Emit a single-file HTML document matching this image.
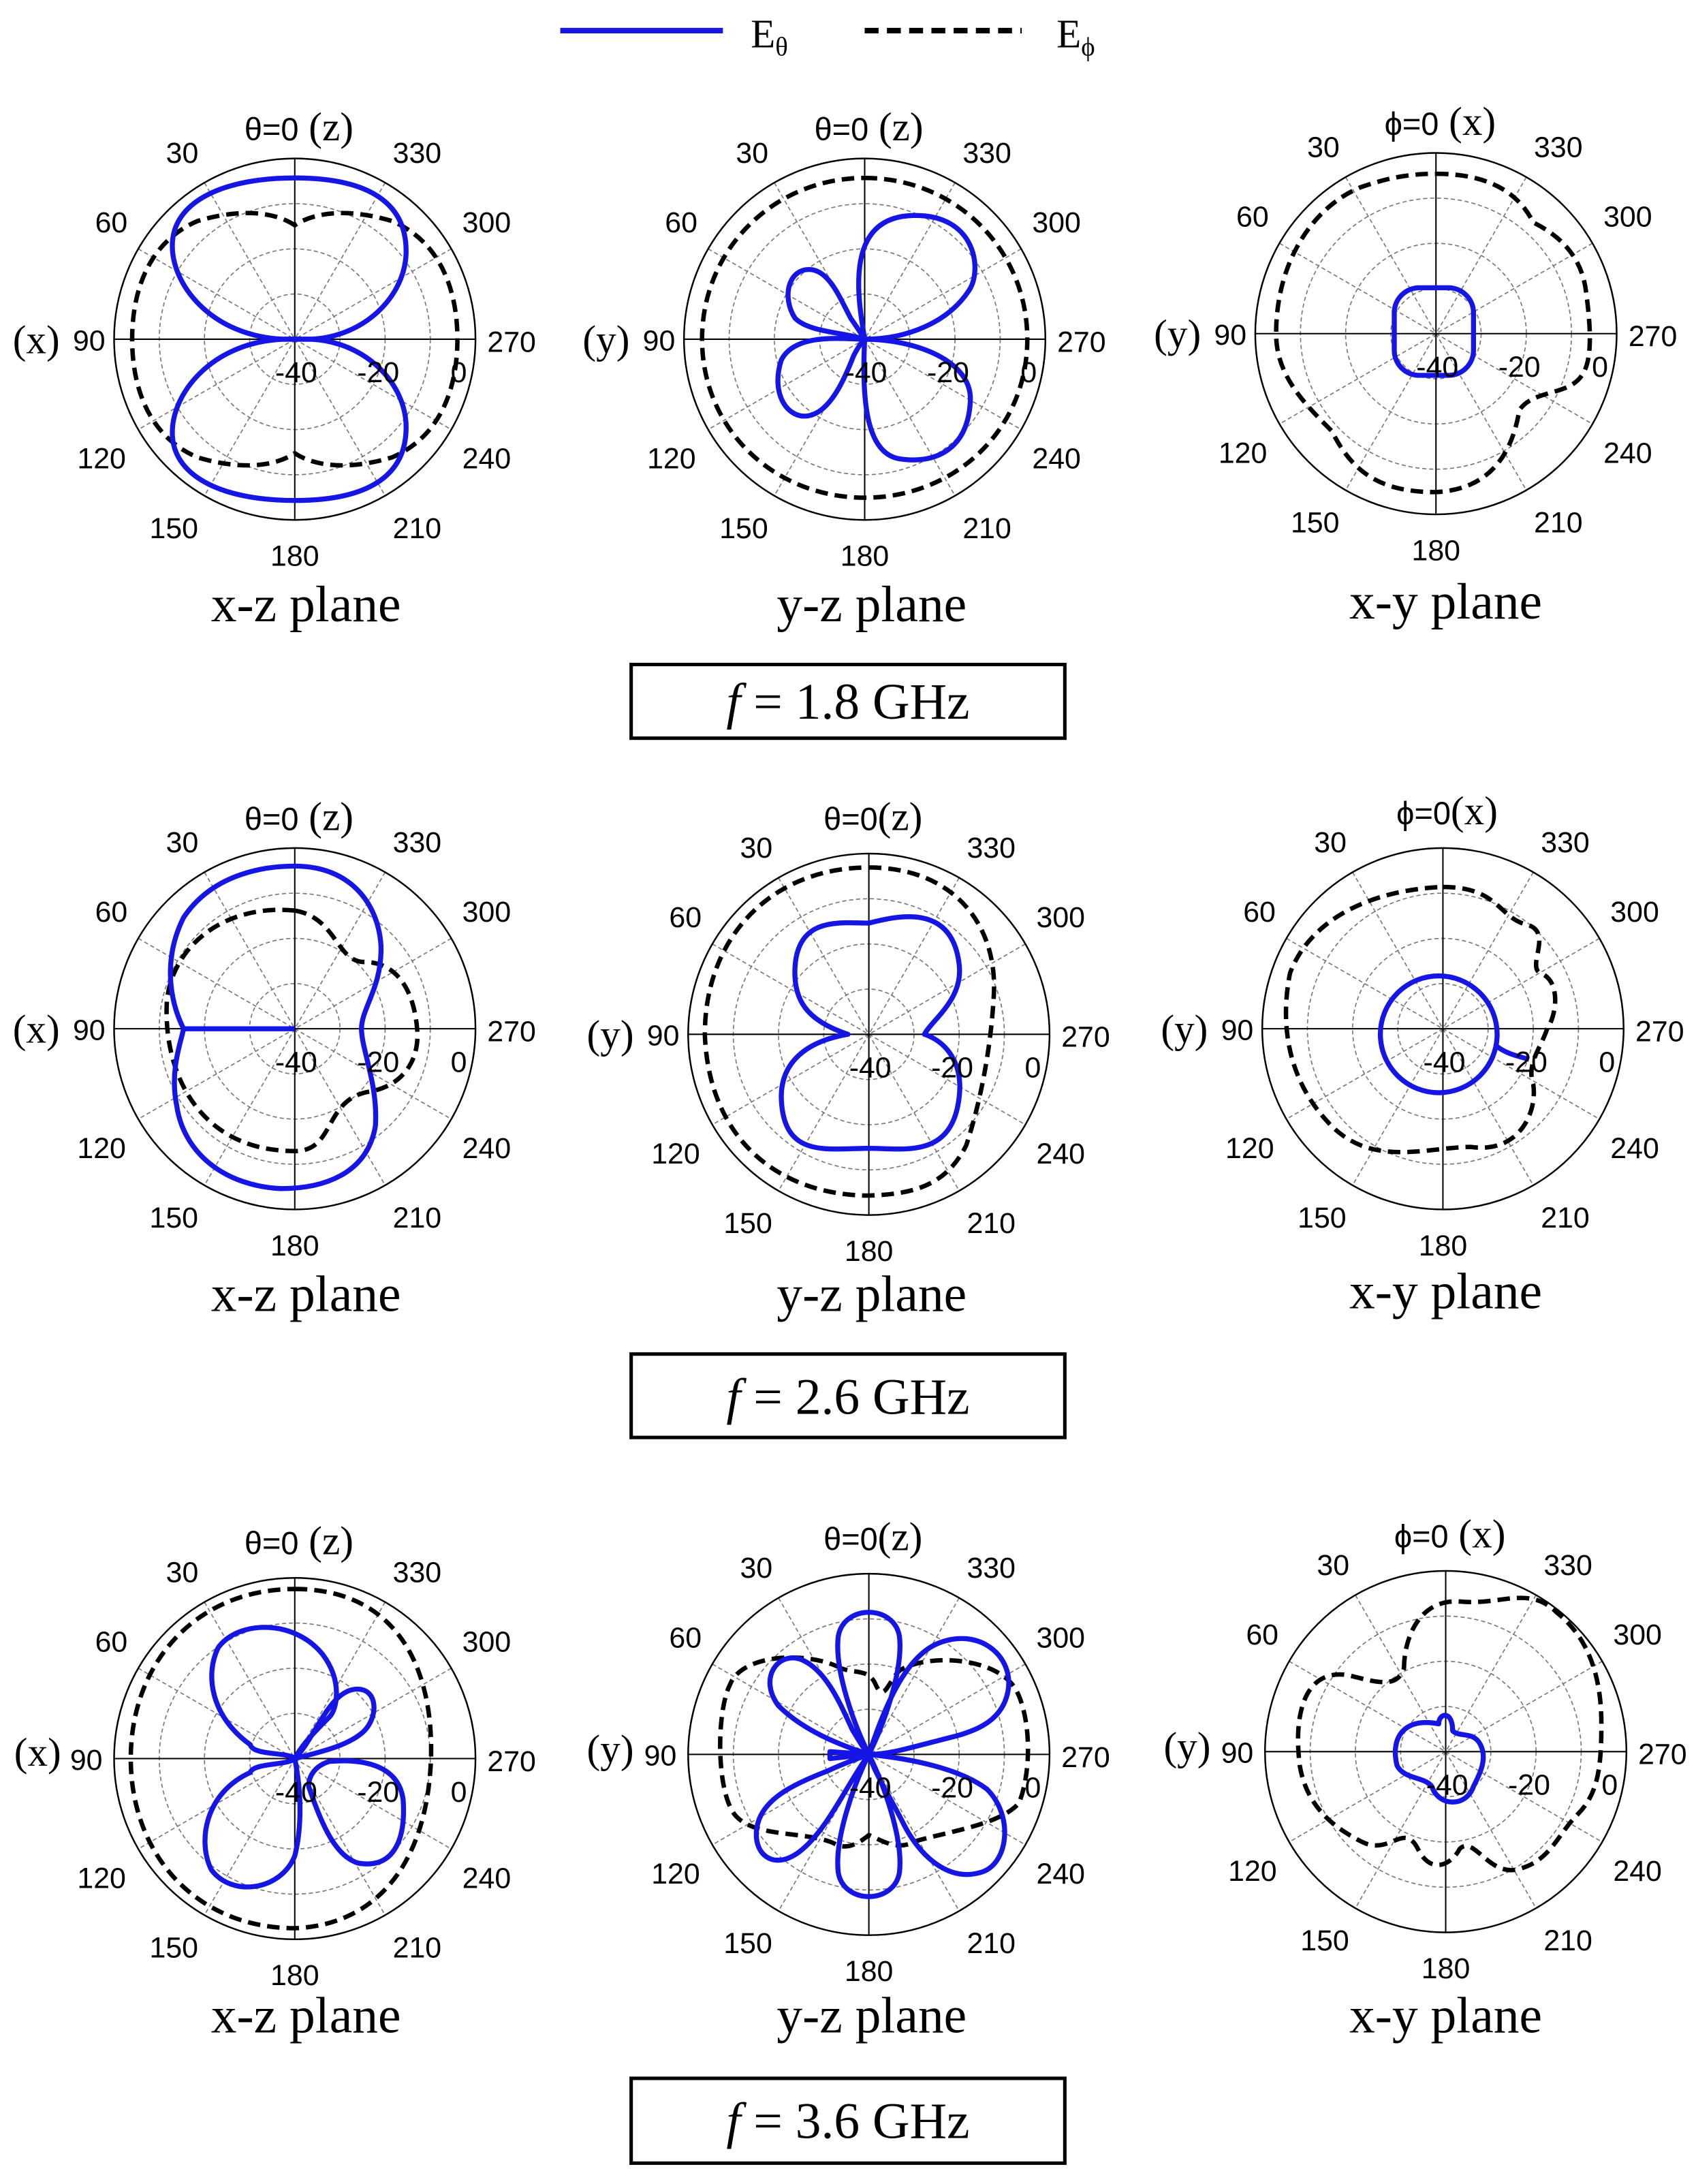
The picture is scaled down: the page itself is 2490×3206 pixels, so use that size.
<!DOCTYPE html>
<html><head><meta charset="utf-8"><style>
html,body{margin:0;padding:0;background:#fff;}
svg{display:block;}
.n{font-family:"Liberation Sans",sans-serif;font-size:21px;fill:#000;text-anchor:middle;}
.s{font-family:"Liberation Serif",serif;font-size:29px;fill:#000;text-anchor:middle;}
.p{font-family:"Liberation Serif",serif;font-size:37px;fill:#000;text-anchor:middle;}
.b{fill:none;stroke:#1515e6;stroke-width:3.6;stroke-linejoin:round;}
.d{fill:none;stroke:#000;stroke-width:3.2;stroke-dasharray:9,5;}
</style></head><body>
<svg width="2490" height="3206" viewBox="0 0 1220 1571" xmlns="http://www.w3.org/2000/svg">
<defs>
<g id="grid">
<circle r="32.5" fill="none" stroke="#777" stroke-width="0.8" stroke-dasharray="3,2"/>
<circle r="65" fill="none" stroke="#777" stroke-width="0.8" stroke-dasharray="3,2"/>
<circle r="97.5" fill="none" stroke="#777" stroke-width="0.8" stroke-dasharray="3,2"/>
<g stroke="#777" stroke-width="0.8" stroke-dasharray="3,2">
<line x1="-65" y1="-112.6" x2="65" y2="112.6"/><line x1="65" y1="-112.6" x2="-65" y2="112.6"/>
<line x1="-112.6" y1="-65" x2="112.6" y2="65"/><line x1="112.6" y1="-65" x2="-112.6" y2="65"/>
</g>
<line x1="-130" y1="0" x2="130" y2="0" stroke="#000" stroke-width="1"/>
<line x1="0" y1="-130" x2="0" y2="130" stroke="#000" stroke-width="1"/>
<circle r="130" fill="none" stroke="#000" stroke-width="1.2"/>
</g>
</defs>

<line x1="403" y1="22" x2="520" y2="22" stroke="#1515e6" stroke-width="4"/>
<text x="540" y="34" class="s" style="text-anchor:start">E<tspan font-size="19" dy="6">θ</tspan></text>
<line x1="622" y1="22" x2="735" y2="22" stroke="#000" stroke-width="4" stroke-dasharray="10,6"/>
<text x="760" y="34" class="s" style="text-anchor:start">E<tspan font-size="19" dy="6">ϕ</tspan></text>

<!-- ROW 1 -->
<g transform="translate(212,244)">
<use href="#grid"/>
<path class="d" d="M0,-82 C-15,-92 -40,-94 -70,-85 C-105,-70 -117,-35 -117,0 C-117,35 -105,70 -70,85 C-40,94 -15,92 0,82 C15,92 40,94 70,85 C105,70 117,35 117,0 C117,-35 105,-70 70,-85 C40,-94 15,-92 0,-82Z"/>
<path class="b" d="M-8,0 C-60,-2 -90,-40 -88,-70 C-86,-100 -50,-116 0,-116 C50,-116 82,-100 80,-60 C78,-30 50,-2 12,0 Z"/>
<path class="b" transform="scale(1,-1)" d="M-8,0 C-60,-2 -90,-40 -88,-70 C-86,-100 -50,-116 0,-116 C50,-116 82,-100 80,-60 C78,-30 50,-2 12,0 Z"/>
<text class="n" x="-81" y="-127">30</text><text class="n" x="88" y="-127">330</text>
<text class="n" x="-132" y="-77">60</text><text class="n" x="138" y="-77">300</text>
<text class="n" x="-148" y="8">90</text><text class="s" x="-186" y="10">(x)</text>
<text class="n" x="156" y="9">270</text>
<text class="n" x="-139" y="93">120</text><text class="n" x="138" y="93">240</text>
<text class="n" x="-87" y="143">150</text><text class="n" x="88" y="143">210</text>
<text class="n" x="0" y="163">180</text>
<text class="n" x="1" y="31">-40</text><text class="n" x="60" y="31">-20</text><text class="n" x="118" y="31">0</text>
<text class="s" x="3" y="-143"><tspan font-family="Liberation Sans" font-size="23">θ=0</tspan> (z)</text>
<text class="p" x="8" y="203">x-z plane</text>
</g>

<g transform="translate(622,244)">
<use href="#grid"/>
<path class="d" d="M0,-116 C65,-116 117,-65 117,0 C117,65 65,114 0,114 C-65,114 -117,65 -117,0 C-117,-65 -65,-116 0,-116Z"/>
<path class="b" d="M0,0 C-5,-30 -15,-88 35,-89 C80,-90 85,-50 75,-35 C60,-12 30,0 0,0Z"/>
<path class="b" d="M0,0 C-15,-5 -40,-5 -50,-15 C-60,-30 -55,-52 -38,-50 C-25,-48 -18,-30 -10,-15 C-5,-8 -2,-3 0,0Z"/>
<path class="b" d="M0,0 C-15,0 -50,-5 -60,15 C-68,40 -55,58 -40,55 C-25,52 -15,30 -8,12 C-5,6 -2,2 0,0Z"/>
<path class="b" d="M0,0 C35,0 78,15 76,45 C74,80 50,90 25,86 C0,82 -2,40 0,0Z"/>
<text class="n" x="-81" y="-127">30</text><text class="n" x="88" y="-127">330</text>
<text class="n" x="-132" y="-77">60</text><text class="n" x="138" y="-77">300</text>
<text class="n" x="-148" y="8">90</text><text class="s" x="-186" y="10">(y)</text>
<text class="n" x="156" y="9">270</text>
<text class="n" x="-139" y="93">120</text><text class="n" x="138" y="93">240</text>
<text class="n" x="-87" y="143">150</text><text class="n" x="88" y="143">210</text>
<text class="n" x="0" y="163">180</text>
<text class="n" x="1" y="31">-40</text><text class="n" x="60" y="31">-20</text><text class="n" x="118" y="31">0</text>
<text class="s" x="3" y="-143"><tspan font-family="Liberation Sans" font-size="23">θ=0</tspan> (z)</text>
<text class="p" x="5" y="203">y-z plane</text>
</g>

<g transform="translate(1033,240)">
<use href="#grid"/>
<path class="d" d="M0,-115 C40,-115 60,-100 70,-80 C90,-70 105,-55 108,-30 C112,0 112,20 105,30 C95,45 70,40 60,55 C55,85 40,112 0,114 C-40,114 -60,100 -75,70 C-95,50 -115,30 -115,0 C-115,-50 -90,-90 -55,-105 C-35,-112 -20,-115 0,-115Z"/>
<rect class="b" x="-30" y="-33" width="57" height="63" rx="18"/>
<text class="n" x="-81" y="-127">30</text><text class="n" x="88" y="-127">330</text>
<text class="n" x="-132" y="-77">60</text><text class="n" x="138" y="-77">300</text>
<text class="n" x="-148" y="8">90</text><text class="s" x="-186" y="10">(y)</text>
<text class="n" x="156" y="9">270</text>
<text class="n" x="-139" y="93">120</text><text class="n" x="138" y="93">240</text>
<text class="n" x="-87" y="143">150</text><text class="n" x="88" y="143">210</text>
<text class="n" x="0" y="163">180</text>
<text class="n" x="1" y="31">-40</text><text class="n" x="60" y="31">-20</text><text class="n" x="118" y="31">0</text>
<text class="s" x="3" y="-143"><tspan font-family="Liberation Sans" font-size="23">ϕ=0</tspan> (x)</text>
<text class="p" x="7" y="205">x-y plane</text>
</g>

<rect x="454" y="478" width="312" height="53" fill="none" stroke="#000" stroke-width="2.5"/>
<text class="p" x="610" y="517"><tspan font-style="italic">f</tspan> = 1.8 GHz</text>

<!-- ROW 2 -->
<g transform="translate(212,740)">
<use href="#grid"/>
<path class="d" d="M0,-85 C-50,-90 -88,-60 -92,-20 C-95,30 -70,88 0,88 C30,88 20,50 55,45 C80,40 90,20 88,0 C86,-25 75,-48 50,-48 C30,-48 30,-80 0,-85Z"/>
<path class="b" d="M0,0 L-80,0 C-90,-20 -95,-50 -80,-80 C-60,-110 -25,-117 0,-117 C40,-117 60,-90 62,-60 C63,-30 48,-15 48,0 C48,15 60,40 58,70 C52,105 20,115 -10,115 C-50,113 -80,90 -85,55 C-90,30 -82,10 -80,0"/>
<text class="n" x="-81" y="-127">30</text><text class="n" x="88" y="-127">330</text>
<text class="n" x="-132" y="-77">60</text><text class="n" x="138" y="-77">300</text>
<text class="n" x="-148" y="8">90</text><text class="s" x="-186" y="10">(x)</text>
<text class="n" x="156" y="9">270</text>
<text class="n" x="-139" y="93">120</text><text class="n" x="138" y="93">240</text>
<text class="n" x="-87" y="143">150</text><text class="n" x="88" y="143">210</text>
<text class="n" x="0" y="163">180</text>
<text class="n" x="1" y="31">-40</text><text class="n" x="60" y="31">-20</text><text class="n" x="118" y="31">0</text>
<text class="s" x="3" y="-143"><tspan font-family="Liberation Sans" font-size="23">θ=0</tspan> (z)</text>
<text class="p" x="8" y="203">x-z plane</text>
</g>

<g transform="translate(625,744)">
<use href="#grid"/>
<path class="d" d="M0,-120 C60,-120 92,-80 90,-30 C88,10 80,50 70,80 C55,110 30,115 0,116 C-60,116 -115,80 -118,0 C-118,-70 -70,-120 0,-120Z"/>
<path class="b" d="M0,-80 C20,-85 60,-95 65,-50 C68,-25 45,-10 40,0 C55,5 68,20 65,45 C60,90 25,82 0,82 C-30,82 -62,90 -63,45 C-63,20 -45,5 -15,0 C-45,-10 -55,-25 -53,-50 C-50,-85 -20,-80 0,-80Z"/>
<text class="n" x="-81" y="-127">30</text><text class="n" x="88" y="-127">330</text>
<text class="n" x="-132" y="-77">60</text><text class="n" x="138" y="-77">300</text>
<text class="n" x="-148" y="8">90</text><text class="s" x="-186" y="10">(y)</text>
<text class="n" x="156" y="9">270</text>
<text class="n" x="-139" y="93">120</text><text class="n" x="138" y="93">240</text>
<text class="n" x="-87" y="143">150</text><text class="n" x="88" y="143">210</text>
<text class="n" x="0" y="163">180</text>
<text class="n" x="1" y="31">-40</text><text class="n" x="60" y="31">-20</text><text class="n" x="118" y="31">0</text>
<text class="s" x="3" y="-147"><tspan font-family="Liberation Sans" font-size="23">θ=0</tspan>(z)</text>
<text class="p" x="2" y="199">y-z plane</text>
</g>

<g transform="translate(1038,740)">
<use href="#grid"/>
<path class="d" d="M0,-102 C40,-102 40,-80 60,-75 C80,-70 60,-45 70,-40 C85,-35 82,-10 75,0 C70,15 60,25 65,40 C68,60 55,90 20,85 C-10,85 -50,100 -80,70 C-110,40 -118,0 -110,-40 C-95,-80 -50,-100 0,-102Z"/>
<circle class="b" cx="-3" cy="4" r="42"/>
<path class="b" d="M38,12 C45,18 55,20 62,22"/>
<text class="n" x="-81" y="-127">30</text><text class="n" x="88" y="-127">330</text>
<text class="n" x="-132" y="-77">60</text><text class="n" x="138" y="-77">300</text>
<text class="n" x="-148" y="8">90</text><text class="s" x="-186" y="10">(y)</text>
<text class="n" x="156" y="9">270</text>
<text class="n" x="-139" y="93">120</text><text class="n" x="138" y="93">240</text>
<text class="n" x="-87" y="143">150</text><text class="n" x="88" y="143">210</text>
<text class="n" x="0" y="163">180</text>
<text class="n" x="1" y="31">-40</text><text class="n" x="60" y="31">-20</text><text class="n" x="118" y="31">0</text>
<text class="s" x="3" y="-147"><tspan font-family="Liberation Sans" font-size="23">ϕ=0</tspan>(x)</text>
<text class="p" x="2" y="201">x-y plane</text>
</g>

<rect x="454" y="974" width="312" height="60" fill="none" stroke="#000" stroke-width="2.5"/>
<text class="p" x="610" y="1017"><tspan font-style="italic">f</tspan> = 2.6 GHz</text>

<!-- ROW 3 -->
<g transform="translate(212,1265)">
<use href="#grid"/>
<path class="d" d="M0,-122 C70,-122 100,-70 98,0 C95,80 55,120 0,122 C-70,122 -118,70 -118,0 C-118,-70 -70,-122 0,-122Z"/>
<path class="b" d="M0,0 C-5,-5 -30,-2 -32,-10 C-60,-30 -65,-60 -55,-80 C-40,-100 0,-100 20,-75 C35,-55 30,-35 25,-30 C15,-20 5,-10 0,0Z"/>
<path class="b" d="M0,0 C15,-15 25,-50 45,-50 C60,-50 60,-30 50,-20 C40,-10 20,-5 0,0Z"/>
<path class="b" d="M0,0 C-5,5 -30,3 -32,10 C-65,25 -70,60 -60,80 C-45,100 -10,95 0,70 C5,50 5,25 0,0Z"/>
<path class="b" d="M10,20 C20,50 30,70 45,75 C70,80 80,60 78,30 C75,5 50,0 25,2 C15,5 10,12 10,20Z"/>
<text class="n" x="-81" y="-127">30</text><text class="n" x="88" y="-127">330</text>
<text class="n" x="-132" y="-77">60</text><text class="n" x="138" y="-77">300</text>
<text class="n" x="-150" y="8">90</text><text class="s" x="-185" y="5">(x)</text>
<text class="n" x="156" y="9">270</text>
<text class="n" x="-139" y="93">120</text><text class="n" x="138" y="93">240</text>
<text class="n" x="-87" y="143">150</text><text class="n" x="88" y="143">210</text>
<text class="n" x="0" y="163">180</text>
<text class="n" x="1" y="31">-40</text><text class="n" x="60" y="31">-20</text><text class="n" x="118" y="31">0</text>
<text class="s" x="3" y="-147"><tspan font-family="Liberation Sans" font-size="23">θ=0</tspan> (z)</text>
<text class="p" x="8" y="197">x-z plane</text>
</g>

<g transform="translate(625,1262)">
<use href="#grid"/>
<path class="d" d="M-20,-62 C-45,-75 -92,-72 -100,-50 C-110,-30 -110,30 -95,45 C-80,60 -45,55 -25,64 C-15,70 -5,62 0,58 C10,62 20,70 35,62 C60,55 95,50 108,35 C118,10 116,-30 105,-48 C90,-70 45,-72 25,-62 C15,-58 12,-35 5,-50 C0,-62 -10,-58 -20,-62Z"/>
<path class="b" d="M0,0 C-10,-20 -25,-60 -22,-85 C-18,-108 18,-108 22,-85 C25,-60 10,-20 0,0Z"/>
<path class="b" d="M0,0 C10,-30 25,-70 50,-80 C80,-92 105,-70 100,-45 C95,-20 70,-15 50,-10 C30,-5 15,0 0,0Z"/>
<path class="b" d="M0,0 C30,3 65,10 85,25 C105,45 100,80 80,85 C55,92 35,70 25,50 C15,30 5,15 0,0Z"/>
<path class="b" d="M0,0 C-10,20 -25,60 -22,85 C-18,108 18,108 22,85 C25,60 10,20 0,0Z"/>
<path class="b" d="M0,0 C-15,20 -30,55 -50,70 C-70,85 -85,70 -80,50 C-75,30 -50,20 -30,12 C-15,5 -5,2 0,0Z"/>
<path class="b" d="M0,0 C-15,-5 -45,-15 -65,-35 C-80,-55 -65,-75 -48,-68 C-30,-60 -20,-35 -12,-18 C-6,-8 -3,-3 0,0Z"/>
<path class="b" d="M0,0 L-28,-2 L-28,3Z"/>
<text class="n" x="-81" y="-127">30</text><text class="n" x="88" y="-127">330</text>
<text class="n" x="-132" y="-77">60</text><text class="n" x="138" y="-77">300</text>
<text class="n" x="-150" y="8">90</text><text class="s" x="-186" y="6">(y)</text>
<text class="n" x="156" y="9">270</text>
<text class="n" x="-139" y="93">120</text><text class="n" x="138" y="93">240</text>
<text class="n" x="-87" y="143">150</text><text class="n" x="88" y="143">210</text>
<text class="n" x="0" y="163">180</text>
<text class="n" x="1" y="31">-40</text><text class="n" x="60" y="31">-20</text><text class="n" x="118" y="31">0</text>
<text class="s" x="3" y="-147"><tspan font-family="Liberation Sans" font-size="23">θ=0</tspan>(z)</text>
<text class="p" x="2" y="200">y-z plane</text>
</g>

<g transform="translate(1040,1260)">
<use href="#grid"/>
<path class="d" d="M-30,-60 C-30,-80 -20,-110 10,-108 C40,-105 60,-120 80,-100 C105,-80 112,-50 112,-20 C112,10 110,30 95,45 C80,60 75,80 50,85 C30,88 20,60 10,70 C5,80 -10,90 -20,70 C-30,50 -40,75 -60,65 C-80,55 -100,40 -105,10 C-110,-30 -100,-60 -70,-55 C-50,-50 -35,-45 -30,-60Z"/>
<path class="b" d="M-5,-20 C-30,-25 -40,-10 -35,10 C-30,20 -15,18 -10,25 C-5,40 15,40 20,25 C25,15 30,5 25,-5 C20,-15 10,-10 5,-15 C5,-30 -5,-28 -5,-20Z"/>
<text class="n" x="-81" y="-127">30</text><text class="n" x="88" y="-127">330</text>
<text class="n" x="-132" y="-77">60</text><text class="n" x="138" y="-77">300</text>
<text class="n" x="-150" y="8">90</text><text class="s" x="-186" y="6">(y)</text>
<text class="n" x="156" y="9">270</text>
<text class="n" x="-139" y="93">120</text><text class="n" x="138" y="93">240</text>
<text class="n" x="-87" y="143">150</text><text class="n" x="88" y="143">210</text>
<text class="n" x="0" y="163">180</text>
<text class="n" x="1" y="31">-40</text><text class="n" x="60" y="31">-20</text><text class="n" x="118" y="31">0</text>
<text class="s" x="3" y="-147"><tspan font-family="Liberation Sans" font-size="23">ϕ=0</tspan> (x)</text>
<text class="p" x="0" y="202">x-y plane</text>
</g>

<rect x="454" y="1495" width="312" height="61" fill="none" stroke="#000" stroke-width="2.5"/>
<text class="p" x="610" y="1538"><tspan font-style="italic">f</tspan> = 3.6 GHz</text>
</svg>
</body></html>
